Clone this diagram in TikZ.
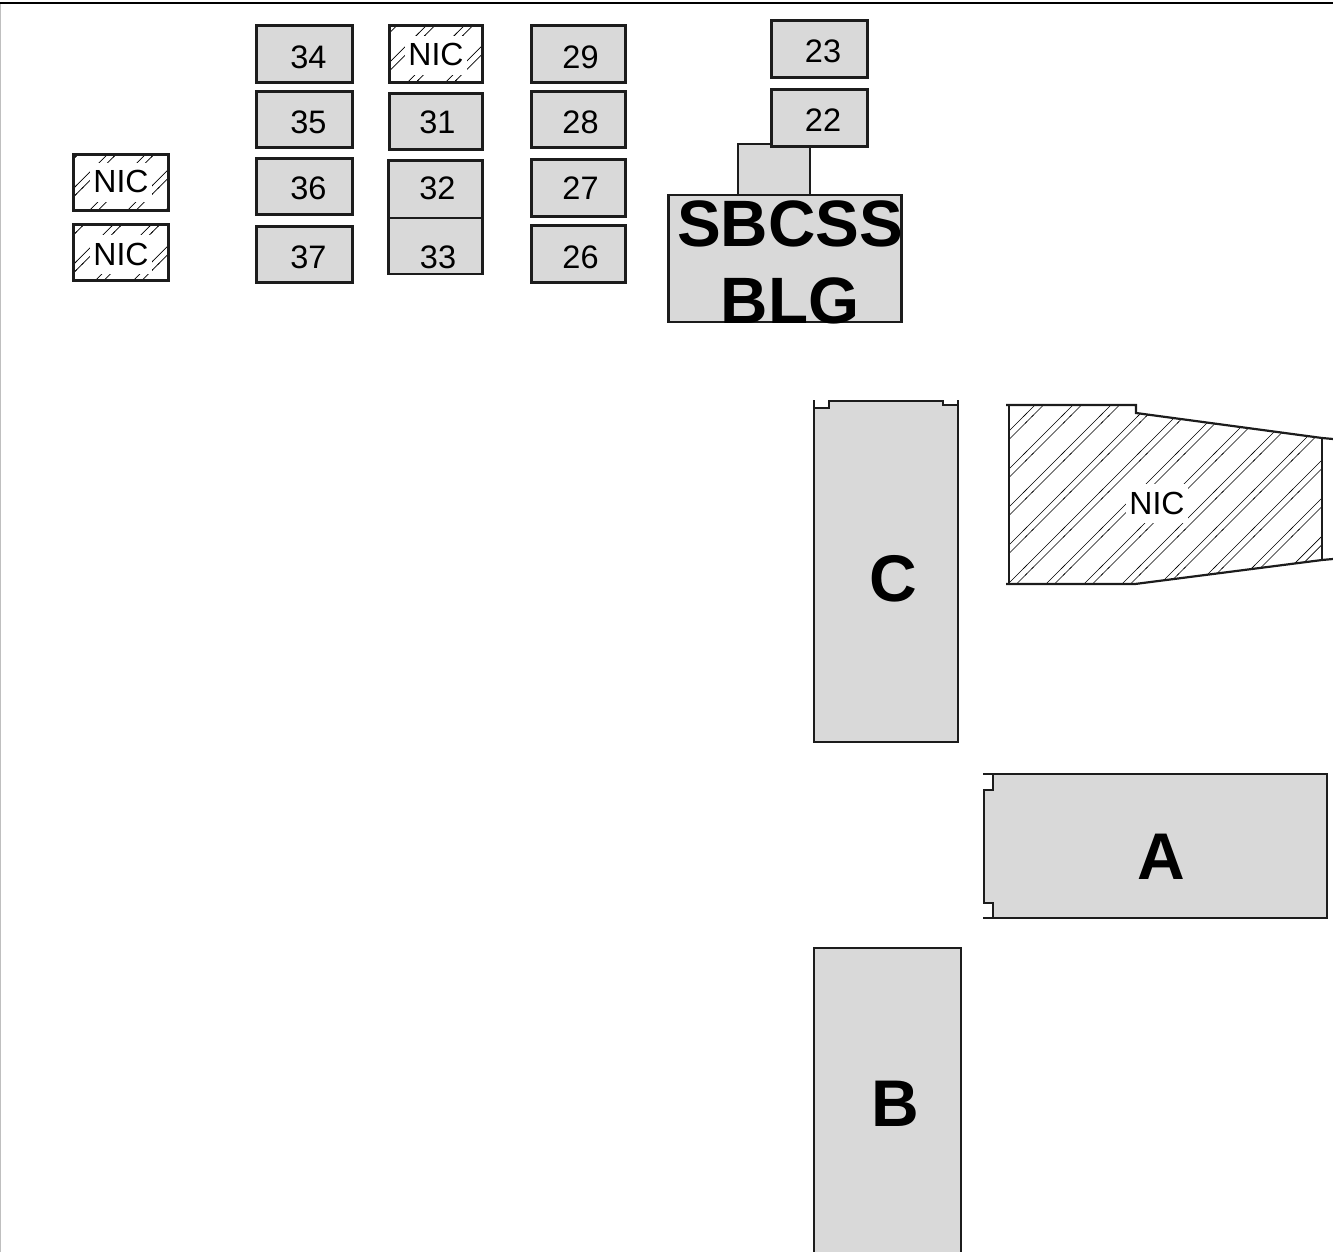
\documentclass[tikz,border=0pt]{standalone}
\usepackage{fontspec}
\setmainfont{Liberation Sans}
\usetikzlibrary{patterns}
\newlength{\du}
\setlength{\du}{1pt}
\definecolor{roomgray}{rgb}{0.850000, 0.850000, 0.850000}
\definecolor{edgecolor}{rgb}{0.110000, 0.110000, 0.110000}
% two close lines in each tile
\pgfdeclarepatternformonly{nicpattern}{\pgfpoint{-1pt}{-1pt}}{\pgfpoint{39pt}{39pt}}{\pgfpoint{38pt}{38pt}}{
\pgfsetlinewidth{0.7pt}
\pgfpathmoveto{\pgfpoint{-1pt}{1pt}}
\pgfpathlineto{\pgfpoint{37pt}{39pt}}
\pgfpathmoveto{\pgfpoint{35pt}{-1pt}}
\pgfpathlineto{\pgfpoint{39pt}{3pt}}
\pgfpathmoveto{\pgfpoint{5.5pt}{-1pt}}
\pgfpathlineto{\pgfpoint{39pt}{32.5pt}}
\pgfpathmoveto{\pgfpoint{-1pt}{30.5pt}}
\pgfpathlineto{\pgfpoint{7.5pt}{39pt}}
\pgfusepath{stroke}
}
\tikzset{
roombox/.style={draw=edgecolor,fill=roomgray,line width=2.2\du,inner sep=0pt,outer sep=0pt,anchor=north west},
nicbox/.style={draw=edgecolor,pattern=nicpattern,line width=2.2\du,inner sep=0pt,outer sep=0pt,anchor=north west},
roomedge/.style={draw=edgecolor,line width=2.2\du},
roomfill/.style={fill=roomgray},
roomlabel/.style={anchor=base,inner sep=0pt,font=\fontsize{32.5}{32.5}\selectfont},
niclabel/.style={anchor=base,fill=white,inner xsep=3\du,inner ysep=0pt,text height=30\du,text depth=9\du,font=\fontsize{32}{32}\selectfont},
winglabel/.style={anchor=base,inner sep=0pt,font=\bfseries\fontsize{66}{66}\selectfont}
}
\begin{document}
\begin{tikzpicture}
\pgftransformxscale{1.000000}
\pgftransformyscale{-1.000000}
\useasboundingbox (0\du,0\du) rectangle (1333\du,1252\du);
% page rules
\coordinate (ruleleft) at (0\du,3\du);
\coordinate (ruleright) at (1333\du,3\du);
\coordinate (rulebottom) at (0.5\du,1252\du);
\coordinate (ruletop) at (0.5\du,3\du);
\draw[black!25,line width=1\du] (ruletop)--(rulebottom);
\draw[black,line width=2.6\du] (ruleleft)--(ruleright);
% left pair
\node[nicbox,minimum width=95\du,minimum height=56\du] (nicupper) at (73.5\du,154.5\du) {};
\node[niclabel] (nicupperlabel) at (121\du,193\du) {NIC};
\node[nicbox,minimum width=95\du,minimum height=56\du] (niclower) at (73.5\du,224.5\du) {};
\node[niclabel] (niclowerlabel) at (121\du,265\du) {NIC};
% first column
\node[roombox,minimum width=96\du,minimum height=57\du] (room34) at (256.5\du,25.5\du) {};
\node[roomlabel] (label34) at (308.5\du,69\du) {34};
\node[roombox,minimum width=96\du,minimum height=56\du] (room35) at (256.5\du,91.5\du) {};
\node[roomlabel] (label35) at (308.5\du,134\du) {35};
\node[roombox,minimum width=96\du,minimum height=56\du] (room36) at (256.5\du,158.5\du) {};
\node[roomlabel] (label36) at (308.5\du,200\du) {36};
\node[roombox,minimum width=96\du,minimum height=56\du] (room37) at (256.5\du,226.5\du) {};
\node[roomlabel] (label37) at (308.5\du,268\du) {37};
% second column
\node[nicbox,minimum width=93\du,minimum height=57\du] (nictop) at (389.5\du,25.5\du) {};
\node[niclabel] (nictoplabel) at (436\du,66\du) {NIC};
\node[roombox,minimum width=93\du,minimum height=56\du] (room31) at (389.5\du,93.5\du) {};
\node[roomlabel] (label31) at (437.5\du,134\du) {31};
\node[roombox,minimum width=94\du,minimum height=58\du] (room32) at (388.5\du,160.5\du) {};
\node[roomlabel] (label32) at (437.5\du,200\du) {32};
\node[roombox,minimum width=94\du,minimum height=56\du] (room33) at (388.5\du,218\du) {};
\node[roomlabel] (label33) at (438\du,268\du) {33};
% third column
\node[roombox,minimum width=94\du,minimum height=57\du] (room29) at (531.5\du,25.5\du) {};
\node[roomlabel] (label29) at (580.5\du,69\du) {29};
\node[roombox,minimum width=94\du,minimum height=56\du] (room28) at (531.5\du,91.5\du) {};
\node[roomlabel] (label28) at (580.5\du,134\du) {28};
\node[roombox,minimum width=94\du,minimum height=57\du] (room27) at (531.5\du,159.5\du) {};
\node[roomlabel] (label27) at (580.5\du,200\du) {27};
\node[roombox,minimum width=94\du,minimum height=57\du] (room26) at (531.5\du,225.5\du) {};
\node[roomlabel] (label26) at (580.5\du,268\du) {26};
% block with the annex
\node[roombox,minimum width=72\du,minimum height=51\du] (annex) at (738\du,144\du) {};
\node[roombox,minimum width=96\du,minimum height=57\du] (room23) at (771.5\du,20.5\du) {};
\node[roomlabel] (label23) at (823\du,63\du) {23};
\node[roombox,minimum width=96\du,minimum height=57\du] (room22) at (771.5\du,89.5\du) {};
\node[roomlabel] (label22) at (823\du,132\du) {22};
\node[roombox,minimum width=233\du,minimum height=127\du] (office) at (668.5\du,195\du) {};
\node[anchor=base,inner sep=0pt,font=\bfseries\fontsize{65.6}{66}\selectfont] (officeupper) at (790\du,247\du) {SBCSS};
\node[anchor=base,inner sep=0pt,font=\bfseries\fontsize{65.6}{66}\selectfont] (officelower) at (790\du,323\du) {BLG};
% wing C
\path[roomfill] (814\du,408\du)--(829\du,408\du)--(829\du,401\du)--(943\du,401\du)--(943\du,405\du)--(958\du,405\du)--(958\du,742\du)--(814\du,742\du)--cycle;
\draw[roomedge] (814\du,400\du)--(814\du,742\du)--(958\du,742\du)--(958\du,400\du);
\draw[roomedge] (814\du,408\du)--(829\du,408\du)--(829\du,401\du)--(943\du,401\du)--(943\du,405\du)--(958\du,405\du);
\node[winglabel] (wingc) at (893\du,601\du) {C};
% hatched part
\path[pattern=nicpattern] (1009\du,405\du)--(1136\du,405\du)--(1136\du,413\du)--(1322\du,438\du)--(1322\du,560\du)--(1135\du,584\du)--(1009\du,584\du)--cycle;
\draw[roomedge] (1006\du,405\du)--(1136\du,405\du)--(1136\du,413\du)--(1322\du,438\du)--(1333\du,439\du);
\draw[roomedge] (1006\du,584\du)--(1135\du,584\du)--(1322\du,560\du)--(1333\du,559\du);
\draw[roomedge] (1009\du,405\du)--(1009\du,584\du);
\draw[roomedge] (1322\du,438\du)--(1322\du,560\du);
\node[niclabel] (nicwing) at (1157\du,514\du) {NIC};
% wing A
\path[roomfill] (993\du,774\du)--(1327\du,774\du)--(1327\du,918\du)--(993\du,918\du)--(993\du,903\du)--(984\du,903\du)--(984\du,790\du)--(993\du,790\du)--cycle;
\draw[roomedge] (983\du,774\du)--(1327\du,774\du)--(1327\du,918\du)--(983\du,918\du);
\draw[roomedge] (993\du,774\du)--(993\du,790\du)--(984\du,790\du)--(984\du,903\du)--(993\du,903\du)--(993\du,918\du);
\node[winglabel] (winga) at (1161\du,879\du) {A};
% wing B
\path[roomfill] (814\du,948\du)--(961\du,948\du)--(961\du,1252\du)--(814\du,1252\du)--cycle;
\draw[roomedge] (814\du,1252\du)--(814\du,948\du)--(961\du,948\du)--(961\du,1252\du);
\node[winglabel] (wingb) at (895.5\du,1126\du) {B};
\end{tikzpicture}
\end{document}
